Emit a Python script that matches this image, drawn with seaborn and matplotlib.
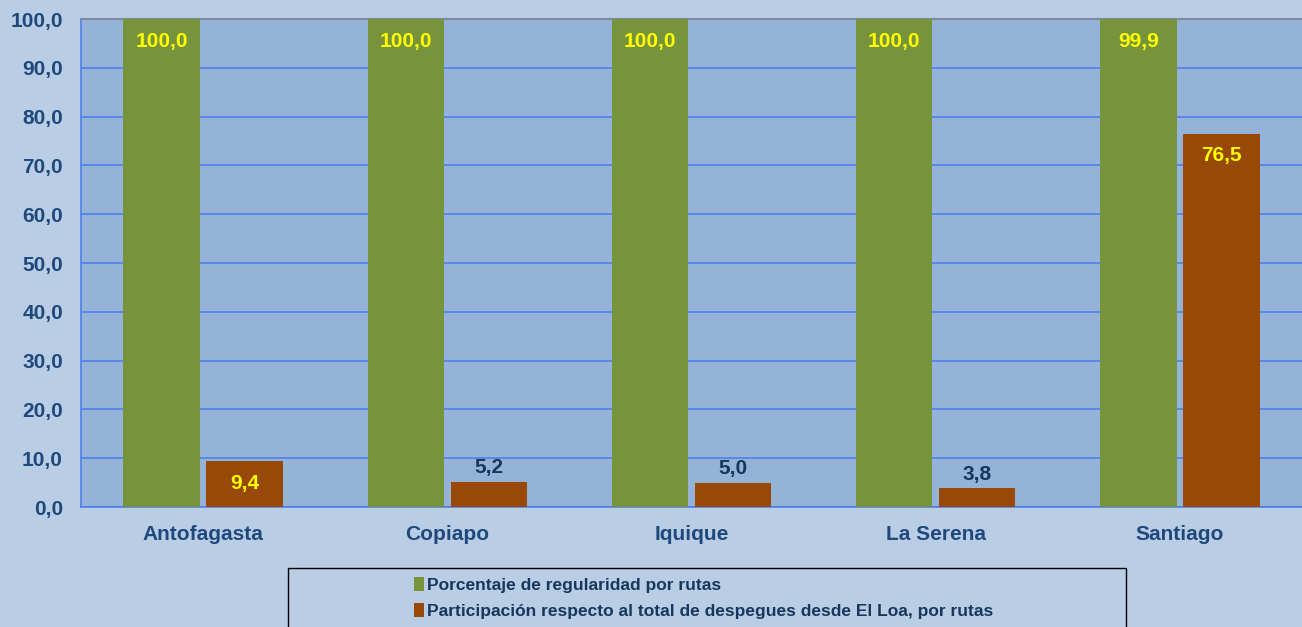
import matplotlib
matplotlib.use("Agg")
import matplotlib.pyplot as plt
from matplotlib.patches import Patch, Rectangle
import pandas as pd
import seaborn as sns

# data
rutas = ["Antofagasta", "Copiapo", "Iquique", "La Serena", "Santiago"]
series = ["Porcentaje de regularidad por rutas",
          "Participación respecto al total de despegues desde El Loa, por rutas"]
regularidad = [100.0, 100.0, 100.0, 100.0, 99.9]
participacion = [9.4, 5.2, 5.0, 3.8, 76.5]
yticks = [0, 10, 20, 30, 40, 50, 60, 70, 80, 90, 100]

df = pd.DataFrame({
    "ruta": rutas * 2,
    "serie": [series[0]] * len(rutas) + [series[1]] * len(rutas),
    "valor": regularidad + participacion,
})

GREEN = "#77933C"
BROWN = "#984807"
NAVY = "#1F497D"
FIG_BG = "#B9CDE5"
AX_BG = "#95B3D7"
GRID = "#4F7FEF"

sns.set_style("white")
plt.rcParams["font.family"] = ["Liberation Sans", "DejaVu Sans"]

fig = plt.figure(figsize=(13.02, 6.27), dpi=100, facecolor=FIG_BG)
ax = fig.add_axes([81 / 1302, 1 - 507 / 627, 1 - 81 / 1302, (507 - 19) / 627])
ax.set_facecolor(AX_BG)

sns.barplot(data=df, x="ruta", y="valor", hue="serie", order=rutas, hue_order=series,
            palette=[GREEN, BROWN], saturation=1, width=0.68, gap=0.08,
            linewidth=0, legend=False, ax=ax, zorder=3)

ax.set_xlim(-0.5, len(rutas) - 0.5)
ax.set_ylim(0, 100)
ax.set_yticks(yticks)
ax.set_yticklabels([f"{v:.1f}".replace(".", ",") for v in yticks])
ax.set_xlabel("")
ax.set_ylabel("")

ax.yaxis.grid(True, color=GRID, linewidth=1.2, zorder=0)
ax.set_axisbelow(True)
for s in ["left", "bottom"]:
    ax.spines[s].set_color(GRID)
    ax.spines[s].set_linewidth(1.2)
ax.spines["top"].set_color("#7F8C9E")
ax.spines["top"].set_linewidth(1.5)
ax.spines["right"].set_visible(False)

ax.tick_params(axis="y", colors=GRID, length=5, width=1.2, direction="out",
               labelcolor=NAVY, labelsize=15, pad=8)
ax.tick_params(axis="x", which="major", length=0, labelcolor=NAVY, labelsize=15, pad=13)
ax.set_xticks([i + 0.5 for i in range(len(rutas) - 1)], minor=True)
ax.tick_params(axis="x", which="minor", colors=GRID, length=5, width=1.2, direction="out")
for lbl in ax.get_xticklabels() + ax.get_yticklabels():
    lbl.set_fontweight("bold")

# value labels
for cont in ax.containers:
    for bar in cont:
        h = bar.get_height()
        x = bar.get_x() + bar.get_width() / 2
        if h > 8:
            ax.annotate(f"{h:.1f}".replace(".", ","), (x, h), xytext=(0, -16),
                        textcoords="offset points", ha="center", va="center",
                        color="#FFFF00", fontsize=15, fontweight="bold", zorder=5)
        else:
            ax.annotate(f"{h:.1f}".replace(".", ","), (x, h), xytext=(0, 10),
                        textcoords="offset points", ha="center", va="center",
                        color="#17375E", fontsize=15, fontweight="bold", zorder=5)

# legend box
fig.add_artist(Rectangle((288 / 1302, -0.01), (1126 - 288) / 1302, (627 - 568) / 627 + 0.01,
                         transform=fig.transFigure, fill=False, edgecolor="black", lw=1))
handles = [Patch(facecolor=GREEN, edgecolor="none", label=series[0]),
           Patch(facecolor=BROWN, edgecolor="none", label=series[1])]
fig.legend(handles=handles, loc="upper left", bbox_to_anchor=(405 / 1302, 1 - 568 / 627),
           frameon=False, borderpad=0, handlelength=0.6, handleheight=0.85,
           handletextpad=0.15, labelspacing=0.6,
           prop={"weight": "bold", "size": 12.5}, labelcolor="#17375E")

fig.savefig("out.png", dpi=100, facecolor=FIG_BG)
